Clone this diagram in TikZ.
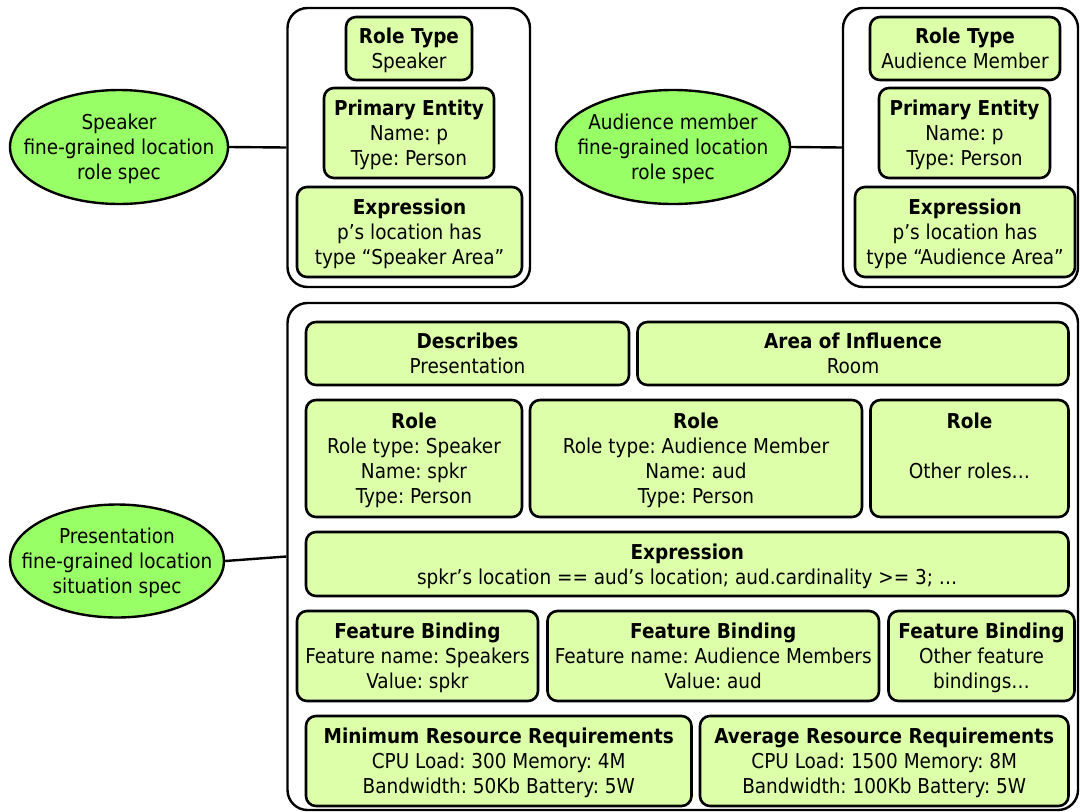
\documentclass[tikz,border=0pt]{standalone}
\usepackage{fontspec}
\setmainfont{DejaVu Sans Condensed}
\usepackage{xcolor}
\usetikzlibrary{shapes.geometric}
\definecolor{partgreen}{RGB}{221,255,170}
\definecolor{specgreen}{RGB}{153,255,102}
\frenchspacing

\begin{document}
\begin{tikzpicture}[x=1pt,y=-1pt,
 font=\fontsize{20.5}{25}\selectfont,
 part/.style={draw,line width=2.6pt,rounded corners=10pt,fill=partgreen,align=center,inner sep=0pt,text depth=-1.5pt},
 frame/.style={draw,line width=2.4pt,rounded corners=20pt,fill=white,inner sep=0pt},
 spec/.style={draw,ellipse,line width=2.4pt,fill=specgreen,align=center,inner xsep=-30pt,inner ysep=-4pt,text depth=-1.5pt}]
 \useasboundingbox (0,0) rectangle (1080,812);
 % speaker role spec
 \node[spec,minimum width=218,minimum height=114] (spkell) at (119,147) {Speaker\\fine-grained location\\role spec};
 \node[frame,minimum width=242.5,minimum height=279] (spkbox) at (408.75,147.5) {};
 \node[part,minimum width=126,minimum height=63] (spkrt) at (409,48.5) {\textbf{Role Type}\\Speaker};
 \node[part,minimum width=170,minimum height=90] (spkpe) at (409,133) {\textbf{Primary Entity}\\Name: p\\Type: Person};
 \node[part,minimum width=225,minimum height=90] (spkex) at (409.5,232) {\textbf{Expression}\\p’s location has\\type “Speaker Area”};
 \draw[line width=2.4pt] (spkell.east)--(spkbox.west);
 % audience role spec
 \node[spec,minimum width=234,minimum height=114] (audell) at (673,147) {Audience member\\fine-grained location\\role spec};
 \node[frame,minimum width=235,minimum height=279] (audbox) at (960.5,147.5) {};
 \node[part,minimum width=190,minimum height=63] (audrt) at (965,48.5) {\textbf{Role Type}\\Audience Member};
 \node[part,minimum width=171,minimum height=90] (audpe) at (964.5,133) {\textbf{Primary Entity}\\Name: p\\Type: Person};
 \node[part,minimum width=220,minimum height=90] (audex) at (965,232) {\textbf{Expression}\\p’s location has\\type “Audience Area”};
 \draw[line width=2.4pt] (audell.east)--(audbox.west);
 % situation spec
 \node[spec,minimum width=214,minimum height=113] (sitell) at (117,561) {Presentation\\fine-grained location\\situation spec};
 \node[frame,minimum width=790.5,minimum height=507] (sitbox) at (682.75,556.5) {};
 \node[part,minimum width=323,minimum height=63] (desc) at (467.5,353.5) {\textbf{Describes}\\Presentation};
 \node[part,minimum width=431,minimum height=63] (aoi) at (853,353.5) {\textbf{Area of Influence}\\Room};
 \node[part,minimum width=216,minimum height=117] (role1) at (414,458.5) {\textbf{Role}\\Role type: Speaker\\Name: spkr\\Type: Person};
 \node[part,minimum width=332,minimum height=117] (role2) at (696,458.5) {\textbf{Role}\\Role type: Audience Member\\Name: aud\\Type: Person};
 \node[part,minimum width=198,minimum height=117] (role3) at (969.5,458.5) {\textbf{Role}\\~\\Other roles…\\~};
 \node[part,minimum width=762.5,minimum height=64] (sitex) at (687.25,564) {\textbf{Expression}\\spkr’s location == aud’s location; aud.cardinality >= 3; …};
 \node[part,minimum width=241,minimum height=90] (fb1) at (417.5,656) {\textbf{Feature Binding}\\Feature name: Speakers\\Value: spkr};
 \node[part,minimum width=331.5,minimum height=90] (fb2) at (713.25,656) {\textbf{Feature Binding}\\Feature name: Audience Members\\Value: aud};
 \node[part,minimum width=186,minimum height=90] (fb3) at (981.5,656) {\textbf{Feature Binding}\\Other feature\\bindings…};
 \node[part,minimum width=385.5,minimum height=90] (minr) at (498.75,761) {\textbf{Minimum Resource Requirements}\\CPU Load: 300 Memory: 4M\\Bandwidth: 50Kb Battery: 5W};
 \node[part,minimum width=368.5,minimum height=90] (avgr) at (884.25,761) {\textbf{Average Resource Requirements}\\CPU Load: 1500 Memory: 8M\\Bandwidth: 100Kb Battery: 5W};
 \draw[line width=2.4pt] (sitell.east)--(sitbox.west);
\end{tikzpicture}
\end{document}
